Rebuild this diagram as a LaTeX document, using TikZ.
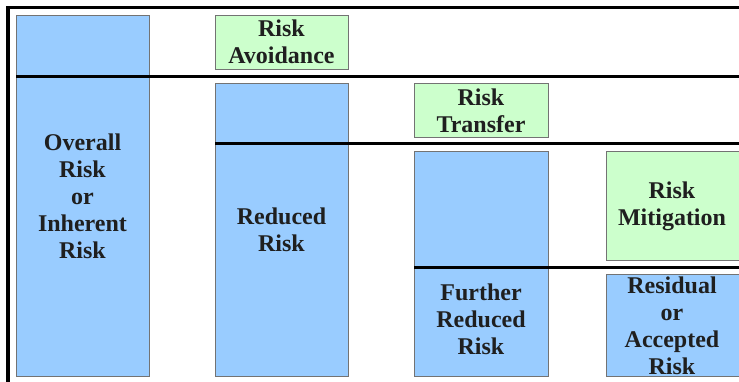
\documentclass[tikz,border=0pt]{standalone}
\usepackage{fontspec}
\setmainfont{Liberation Serif}
\definecolor{riskblue}{RGB}{153,204,255}
\definecolor{riskgreen}{RGB}{204,255,204}
\begin{document}
\begin{tikzpicture}[x=1pt,y=-1pt,
  box/.style={draw=black!55, line width=0.9pt, inner sep=0pt, outer sep=0pt, anchor=north west},
  riskbox/.style={box, fill=riskblue},
  actbox/.style={box, fill=riskgreen},
  txt/.style={font=\fontsize{24}{27}\selectfont\bfseries, align=center, text=black!88, inner sep=0pt},
  level/.style={line width=3pt, black},
  frame/.style={line width=3.2pt, black},
]
\useasboundingbox (0,0) rectangle (739,382);
\clip (0,0) rectangle (739,382);

% outer frame (left and top)
\coordinate (frameBL) at (8,384);
\coordinate (frameTL) at (8,7.5);
\coordinate (frameTR) at (741,7.5);
\draw[frame] (frameBL) -- (frameTL) -- (frameTR);

% risk bars and treatment boxes
\node[riskbox, minimum width=133pt, minimum height=361pt] (overall) at (16,15) {};
\node[actbox,  minimum width=133pt, minimum height=54pt]  (avoid)   at (215,15) {};
\node[riskbox, minimum width=133pt, minimum height=293pt] (reduced) at (215,83) {};
\node[actbox,  minimum width=134pt, minimum height=54pt]  (transfer) at (414,83) {};
\node[riskbox, minimum width=134pt, minimum height=225pt] (further) at (414,151) {};
\node[actbox,  minimum width=140pt, minimum height=109pt] (mitig)   at (606,151) {};
\node[riskbox, minimum width=140pt, minimum height=102pt] (resid)   at (606,274) {};

% risk levels
\coordinate (lvlA) at (741,77);
\coordinate (lvlB) at (741,144);
\coordinate (lvlC) at (741,267);
\draw[level] (overall.west |- lvlA) -- (lvlA);
\draw[level] (reduced.west |- lvlB) -- (lvlB);
\draw[level] (further.west |- lvlC) -- (lvlC);

% labels
\node[txt] (tOverall)  at (82.5,196) {Overall\\Risk\\or\\Inherent\\Risk};
\node[txt] (tAvoid)    at (avoid.center) {Risk\\Avoidance};
\node[txt] (tReduced)  at (281.5,230) {Reduced\\Risk};
\node[txt] (tTransfer) at (481,111) {Risk\\Transfer};
\node[txt] (tFurther)  at (481,319.5) {Further\\Reduced\\Risk};
\node[txt] (tMitig)    at (672,206) {Risk\\Mitigation};
\node[txt] (tResid)    at (672,325.5) {Residual\\or\\Accepted\\Risk};
\end{tikzpicture}
\end{document}
